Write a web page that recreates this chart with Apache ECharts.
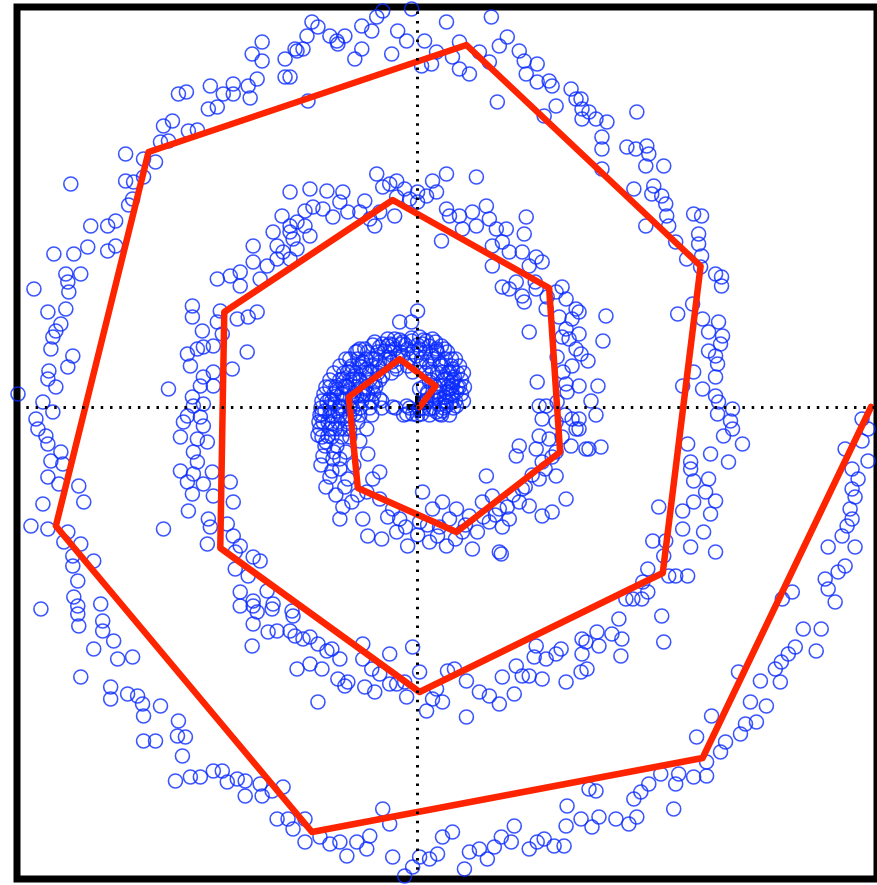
<!DOCTYPE html>
<html><head><meta charset="utf-8">
<script src="https://cdn.jsdelivr.net/npm/echarts@6/dist/echarts.min.js"></script>
<style>html,body{margin:0;padding:0;background:#fff;}#c{width:877px;height:885px;}</style>
</head><body><div id="c"></div>
<script>
// Outer arm of the spiral (scatter samples)
const armOuter = [
[-156,365],[-166,353],[-156,346],[-133,348],[-123,358],[-133,330],[-161,328],[-170,321],[-185,323],[-208,321],[-195,313],[-185,313],[-168,309],[-240,313],[-232,315],[-210,298],[-201,300],[-255,281],[-246,286],[-230,276],[-221,277],[-258,265],[-250,266],[-293,253],[-275,248],[-263,245],[-348,223],[-293,226],[-275,230],[-285,225],[-290,202],[-286,208],[-328,181],[-311,181],[-303,186],[-365,153],[-345,153],[-331,160],[-311,156],[-303,161],[-353,133],[-338,133],[-351,125],[-385,118],[-350,115],
[-6,398],[-35,396],[-41,390],[-46,376],[-56,381],[-73,371],[-81,366],[-88,371],[-80,363],[-100,380],[-106,385],[-111,371],[-121,356],[-115,358],[-128,330],[-56,358],[-63,348],[-26,353],[-20,376],[-11,366],[7,366],[29,385],[74,390],[19,355],[14,343],[4,341],[35,350],[42,365],[42,338],[52,333],[62,355],[72,345],[80,305],[-110,306],[82,361],[90,370],[102,356],[107,346],[120,343],[109,333],[120,325],[132,326],[135,321],[154,318],[159,308],[139,301],[165,298],[127,291],[165,288],
[164,308],[172,295],[179,288],[190,285],[220,295],[185,270],[185,258],[210,260],[219,258],[230,261],[232,253],[229,241],[247,241],[185,238],[217,218],[237,221],[235,213],[245,211],[249,203],[277,193],[285,191],[250,191],[252,181],[229,181],[259,165],[282,173],[282,163],[285,151],[270,148],[284,140],[299,133],[305,130],[305,121],
[261,93],[276,103],[286,88],[302,85],[292,75],[306,71],[304,63],[292,56],[299,51],[301,43],[277,35],[299,30],[266,21],[286,18],[299,11],[302,5],[316,-2],[301,-7],[314,-14],[316,-22],[307,-29],[326,-37],[271,-37],[294,-47],[312,-55],[274,-55],[274,-62],[277,-74],[292,-72],[289,-85],[299,-94],[277,-95],[266,-104],[242,-100],[294,-107],[266,-122],[287,-125],[236,-134],[249,-134],[274,-140],[299,-145],[247,-149],[231,-162],[252,-169],[259,-169],[271,-169],[226,-175],[231,-185],[216,-192],[209,-192],
[446,-12],[452,-22],[429,-42],[446,-34],[452,-54],[436,-62],[442,-72],[436,-82],[439,-90],[434,-102],[436,-112],[431,-119],[426,-129],[439,-140],[412,-140],[429,-159],[422,-165],[409,-172],[412,-182],[419,-195],[376,-185],[366,-192],
[387,-222],[405,-222],[400,-244],[379,-240],[372,-247],[365,-255],[359,-262],[364,-275],[344,-274],[322,-265],[334,-295],[350,-299],[340,-315],[329,-317],[324,-327],[295,-309],[280,-330],[309,-335],[304,-345],[290,-355],[290,-369],[277,-370],[262,-367],[259,-377],[244,-367],[232,-377],[224,-385],[217,-392],[179,-384],[257,-402],[220,-410],[212,-417],[199,-412],[182,-410],[175,-420],[164,-412],
[-35,-402],[-28,-417],[-48,-429],[-61,-435],[-71,-449],[-78,-435],[-88,-437],[-98,-430],[-113,-435],[-113,-412],[-125,-422],[-51,-442],[-25,-450],[-13,-469],[-5,-460],[2,-450],[12,-452],[20,-447],[25,-430],[35,-425],[47,-462],[52,-445],[62,-442],[70,-452],[77,-440],[84,-430],[94,-435],[97,-419],[112,-442],[120,-435],[127,-432],[137,-439],[147,-439],[149,-419],[150,-399],[172,-382],
[-378,-202],[-341,-199],[-341,-207],[-340,-219],[-318,-197],[-316,-214],[-316,-224],[-305,-234],[-325,-242],[-301,-252],[-286,-250],[-338,-270],[-308,-280],[-308,-292],[-291,-287],[-281,-289],[-276,-297],[-275,-309],[-258,-299],[-240,-314],[-241,-329],[-233,-330],[-275,-334],[-263,-334],[-236,-349],[-243,-374],[-228,-370],[-218,-370],[-205,-364],[-196,-364],[-191,-375],[-181,-372],[-173,-374],[-173,-389],[-158,-377],[-156,-389],[-146,-384],[-135,-380],[-141,-412],[-130,-412],
[-371,95],[-353,98],[-358,83],[-363,76],[-366,70],[-368,58],[-346,51],[-351,40],[-370,36],[-371,28],[-363,20],[-401,13],[-376,5],[-366,-5],[-383,-12],[-381,-22],[-373,-29],[-371,-37],[-358,-45],[-368,-54],[-356,-57],[-371,-70],[-360,-77],[-340,-79],[-335,-95],[-376,-97],[-388,-119],[-371,-122],[-351,-125],[-355,-135],[-338,-137],[-346,-149],[-325,-154],[-346,-159],[-341,-174],[-345,-190]
];
// Middle arm
const armMiddle = [
[-128,215],[-136,191],[-145,175],[-128,181],[-165,161],[-141,161],[-151,141],[-165,145],[-178,135],[-188,131],[-201,128],[-178,121],[-158,128],[-141,148],[-125,168],[-135,155],
[-41,233],[-28,223],[-21,226],[-13,218],[0,215],[15,226],[29,233],[59,230],[19,215],[9,211],[0,205],[-8,208],[-21,210],[-35,220],[-53,206],[-58,195],[-75,215],[-78,205],[-91,216],[-108,218],[-113,196],[-105,200],[-95,198],[-85,190],[-70,195],[-121,185],[-113,181],[-108,171],[-128,175],[-121,158],[-128,148],[-48,188],[-43,181],[-23,191],[-38,195],[29,198],[32,191],[42,191],[55,195],[69,201],[72,188],[59,181],[45,178],[79,178],[89,178],[109,190],[107,173],[85,165],[75,161],[24,166],[92,155],[105,155],[119,150],[125,145],[112,141],[75,141],[99,125],[85,120],[119,118],[145,120],[139,115],[105,111],
[162,95],[189,91],[162,73],[186,66],[164,53],[171,46],[181,21],[174,6],[179,-8],[162,-12],[162,-22],[172,-42],[184,-40],[162,21],
[-226,101],[-226,90],[-198,96],[-201,85],[-181,88],[-170,90],[-161,95],[-216,76],[-196,73],[-231,53],[-221,58],[-215,60],[-205,61],[-228,41],[-205,35],[-186,38],[-171,55],[-250,18],[-215,30],[-218,21],[-205,21],[-226,10],[-225,1],[-215,3],[-231,-9],[-218,-10],[-235,-15],[-215,-19],[-238,-30],[-221,-32],[-211,-35],[-225,-45],[-221,-55],[-238,-64],[-225,-67],[-206,-65],[-231,-75],[-215,-77],[-188,-75],[-226,-87],[-205,-89],[-185,-95],[-230,-104],[-255,-122],[-210,-112],[-208,-120],[-191,-117],[-211,-137],[-185,-129],[-178,-139],[-183,-145],[-165,-150],[-158,-154],[-183,-162],[-170,-169],[-178,-185],[-165,-194],[-151,-184],[-145,-197],
[-178,-199],[-165,-199],[-161,-205],[-165,-217],[-146,-202],[-150,-225],[-141,-224],[-128,-224],[-166,-239],[-126,-204],
[-125,-209],[-123,-229],[-115,-232],[-108,-230],[-100,-237],[-91,-244],[-86,-242],[-78,-252],[-108,-257],[-121,-262],[-96,-262],[-80,-272],[-73,-279],[-70,-275],[-55,-237],[-55,-252],[-46,-262],[-38,-267],[-28,-247],[-53,-280],[-43,-285],[-28,-277],[-21,-277],[-13,-275],[-11,-290],[-5,-240],[2,-265],[-100,-295],[9,-304],[15,-292],[25,-295],[19,-282],[30,-264],[37,-262],[49,-274],[49,-310],[62,-285],[72,-289],[82,-297],[85,-270],[99,-259],[105,-269],[97,-287],[112,-269],[119,-239],[117,-250],[125,-272],[129,-252],[139,-247],[144,-242],[149,-275],[165,-232],[164,-265],
[245,-209],[247,-235],[204,-249],[205,-232],[202,-212],[195,-227],[180,-225],[182,-239],[169,-235],[165,-247],[170,-262],[225,-192]
];
// Inner arm (second loop)
const armInner = [
[0,96],[-18,85],[-6,85],[-43,65],[-60,56],[-28,63],[-15,65],[9,66],[19,56],[34,48],[32,35],[35,21],[39,15],[29,5],[19,10],[25,-4],[4,-7],[-11,-7],[-25,0],[-38,8],[-43,25],[-51,38],[-65,28],[-73,21],[-81,11],[-91,5],[-96,-7],[-86,-17],[-90,-29],[-81,-39],[-93,-39],[-95,-49],[-78,-52],[-86,-64],[-73,-80],[-50,-47],[-58,-34],[-51,-22],[-46,5],[-61,11],[-70,35],[-78,-112],[-55,-112],[-50,-129],[-36,-132],[-38,-65],[-45,-72],[-51,-85],[-38,-92],[-25,-102],[-18,-112],[-21,-125],[-10,-139],[2,-115],[5,-85],[15,-102],[25,-95],[32,-112],[20,-129],[29,-139],[12,-135],[39,-102],[52,-109],[45,-125],[55,-142],[69,-69],[65,-95],[75,-89],[82,-102],[72,-115],[85,-120],[82,-145],[92,-112],[102,-95],[105,-82],[112,-99],[102,-39],[99,-49],[119,-42],[125,-55],[122,-72],[139,-69],[149,-92],[135,-105],[125,-109],[139,-45],[132,-32],[122,-29],[125,-12],[122,1],[129,1],[139,-15],[155,-12],[159,-22],[154,-39],[169,-42],[120,25],[149,23],[155,41],[159,58],[152,68],[149,78],[155,88],[159,98],[149,108],[112,75],[107,105],[129,98],[92,118],[84,-147],
[-92,-35],[-84,-45],[-97,-58],[-88,-70],[-78,-62],[-70,-72],[-92,-80],[-82,-88],[-66,-95],[-75,-100],[-60,-88],[-85,-52],[-72,-45],[-64,-58],[-100,-28],[-68,-30],
[-30,-110],[-12,-120],[0,-128],[10,-118],[22,-120],[38,-132],[48,-118],[60,-125],[66,-110],[78,-108],[90,-100],[96,-88],[108,-80],[115,-68],[128,-62],[135,-50],[145,-30],[148,-8],[140,5],[150,15],[146,35],[140,50],[145,70],[142,90],[130,110],[118,125]
];
// Dense core around the spiral origin
const armCore = [
[-58,58],[-30,61],[-16,63],[-6,66],[5,63],[19,58],[35,38],[34,25],[35,11],[29,1],[19,-5],[-5,-7],[-11,1],[-55,45],[-68,38],[-75,28],[-81,18],[-88,8],[-93,-4],[-95,-15],[-85,-9],[-78,1],[-65,11],[-58,25],[-48,35],[-38,45],[-28,48],[-15,51],[-1,51],[9,45],[15,35],[22,21],[15,11],[9,5],[2,18],[25,35],[12,25],[-5,35],[-21,38],[-35,31],[-45,21],[-55,11],[-65,-2],[-71,-12],[29,15],[39,1],[22,3],[2,-2],
[-83,3],[-76,13],[-70,20],[-63,31],[-56,40],[-46,48],[-33,56],[-23,58],[-10,58],[2,58],[14,51],[23,43],[29,28],[32,18],[27,10],[34,5],[20,15],[10,15],[-53,18],[-60,3],[-73,8],[-80,-4],[-88,20],[-68,48],[-53,58],[-38,60],[-23,68],[2,70],[15,68],[27,58],[37,30],[42,20],[22,-7],[12,-2],[-73,-22],[-63,-7],[-83,-22],[-50,13],[-40,40],[-26,45],
[-30,68],[-18,67],[-6,69],[6,67],[18,65],
[-45,62],[-35,63],[-25,62],[-12,62],[0,62],[12,61],[24,61],
[-62,55],[-50,55],[-40,55],[-28,55],[-17,55],[-5,55],[8,55],[20,54],[30,55],
[-72,48],[-60,48],[-52,48],[-42,48],[-32,48],[-20,48],[-8,48],[4,48],[16,48],[28,48],[38,48],
[-78,41],[-66,41],[-58,41],[-46,41],[-34,41],[-22,41],[-10,41],[2,41],[12,41],[24,41],[34,41],[42,41],
[-84,34],[-74,34],[-62,34],[-52,34],[-40,34],[-26,34],[8,34],[20,34],[30,34],[40,34],[46,34],
[-88,27],[-78,27],[-68,27],[-58,27],[-48,27],[-38,27],[14,27],[26,27],[36,27],[44,27],
[-92,20],[-82,20],[-72,20],[-62,20],[-52,20],[-42,20],[6,20],[18,20],[30,20],[40,20],[47,20],
[-94,13],[-84,13],[-74,13],[-64,13],[-54,13],[-44,13],[10,13],[22,13],[34,13],[44,13],
[-96,6],[-86,6],[-76,6],[-66,6],[-56,6],[-46,6],[-36,6],[8,6],[18,6],[28,6],[38,6],[46,6],
[-97,-1],[-88,-1],[-78,-1],[-68,-1],[-58,-1],[-48,-1],[-36,-1],[-22,-1],[-8,-1],[6,-1],[16,-1],[26,-1],[36,-1],
[-98,-8],[-88,-8],[-78,-8],[-68,-8],[-58,-8],[-46,-8],[-14,-8],[0,-8],[12,-8],[24,-8],[32,-8],
[-99,-15],[-90,-15],[-80,-15],[-70,-15],[-60,-15],
[-98,-22],[-88,-22],[-78,-22],[-68,-22],
[-96,-30],[-86,-30],[-76,-30]
];
// Red fitted curve vertices
const curveX = [2,18,-18,-69,-60,39,143,132,-25,-194,-198,2,246,284,49,-270,-363,-106,286,455];
const curveY = [0,21,48,10,-81,-125,-45,119,207,95,-141,-285,-166,141,362,255,-119,-425,-351,0];
const xRange = [-402, 461];
const yRange = [-472, 400];

const chart = echarts.init(document.getElementById('c'));
const tick = {show:true, inside:true, length:11, customValues:[0], lineStyle:{color:'#000', width:6}};
function axis(pos, range){
  return {type:'value', position:pos, min:range[0], max:range[1], axisLine:{show:false},
    axisLabel:{show:false}, splitLine:{show:false}, axisTick:tick};
}
chart.setOption({
  animation:false,
  backgroundColor:'#fff',
  grid:{left:17, top:7, width:863, height:872, show:true, borderColor:'#000', borderWidth:7, backgroundColor:'rgba(0,0,0,0)'},
  xAxis:[axis('bottom', xRange), axis('top', xRange)],
  yAxis:[axis('left', yRange), axis('right', yRange)],
  series:[
    {type:'scatter', data: armOuter.concat(armMiddle, armInner, armCore), symbol:'circle', symbolSize:14,
     itemStyle:{color:'rgba(0,0,0,0)', borderColor:'#0a2aff', borderWidth:1.6},
     emphasis:{disabled:true}, silent:true, z:2, large:false,
     markLine:{silent:true, symbol:['none','none'], label:{show:false}, emphasis:{disabled:true},
       lineStyle:{color:'#000', width:3, type:[2.5,6.8]}, data:[{xAxis:0},{yAxis:0}]}},
    {type:'line', data: curveX.map((x,i)=>[x, curveY[i]]), symbol:'none', showSymbol:false,
     lineStyle:{color:'#ff2400', width:6.5, cap:'round', join:'round'}, emphasis:{disabled:true}, silent:true, z:3}
  ]
});
</script></body></html>
